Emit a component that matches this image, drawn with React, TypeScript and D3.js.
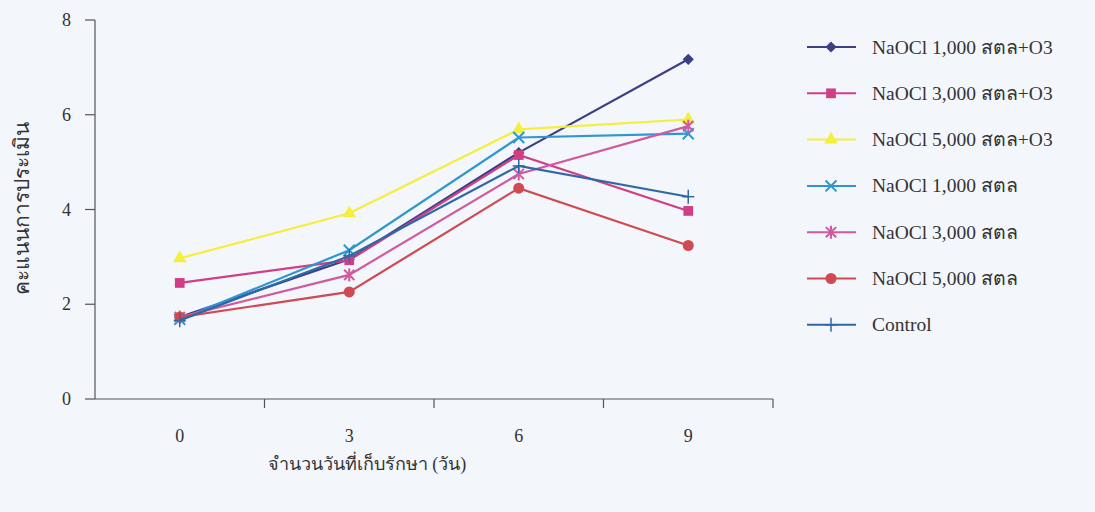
import React from 'react';
import * as d3 from 'd3';

const days = ['0', '3', '6', '9'];

const naocl1000O3 = [1.73, 2.95, 5.2, 7.17];
const naocl3000O3 = [2.45, 2.93, 5.15, 3.97];
const naocl5000O3 = [2.97, 3.92, 5.69, 5.9];
const naocl1000 = [1.68, 3.14, 5.52, 5.6];
const naocl3000 = [1.73, 2.62, 4.75, 5.76];
const naocl5000 = [1.73, 2.26, 4.45, 3.24];
const control = [1.66, 3.02, 4.92, 4.27];

const yTicks = [0, 2, 4, 6, 8];

const seriesNames = [
  'NaOCl 1,000 สตล+O3',
  'NaOCl 3,000 สตล+O3',
  'NaOCl 5,000 สตล+O3',
  'NaOCl 1,000 สตล',
  'NaOCl 3,000 สตล',
  'NaOCl 5,000 สตล',
  'Control',
];
const seriesValues = [naocl1000O3, naocl3000O3, naocl5000O3, naocl1000, naocl3000, naocl5000, control];
const seriesColors = ['#3b3f86', '#d03f86', '#f4ee3c', '#2f96cf', '#cf5a9e', '#cf4a52', '#2f68a8'];
const seriesMarkers = ['diamond', 'square', 'triangle', 'x', 'asterisk', 'circle', 'plus'];

const font = '"Liberation Serif", "DejaVu Serif", serif';

function Marker({ kind, x, y, color }) {
  if (kind === 'diamond') {
    return <path d={d3.symbol(d3.symbolDiamond2, 80)()} transform={`translate(${x},${y})`} fill={color} />;
  }
  if (kind === 'square') {
    return <path d={d3.symbol(d3.symbolSquare, 95)()} transform={`translate(${x},${y})`} fill={color} />;
  }
  if (kind === 'triangle') {
    return <path d={d3.symbol(d3.symbolTriangle, 80)()} transform={`translate(${x},${y})`} fill={color} />;
  }
  if (kind === 'circle') {
    return <circle cx={x} cy={y} r={5.5} fill={color} />;
  }
  if (kind === 'x') {
    return <path d={d3.symbol(d3.symbolX, 80)()} transform={`translate(${x},${y})`} stroke={color} strokeWidth={2} fill="none" />;
  }
  if (kind === 'asterisk') {
    return (
      <g stroke={color} strokeWidth={2}>
        <path d={d3.symbol(d3.symbolX, 70)()} transform={`translate(${x},${y})`} />
        <line x1={x} x2={x} y1={y - 6.5} y2={y + 6.5} />
      </g>
    );
  }
  return (
    <g stroke={color} strokeWidth={1.5}>
      <line x1={x - 6} x2={x + 6} y1={y} y2={y} />
      <line x1={x} x2={x} y1={y - 7} y2={y + 7} />
    </g>
  );
}

export default function App() {
  const width = 1095;
  const height = 512;
  const left = 95;
  const right = 773;
  const top = 20;
  const bottom = 399;

  const xScale = d3.scaleBand().domain(days).range([left, right]).padding(0);
  const yScale = d3.scaleLinear().domain([0, 8]).range([bottom, top]);
  const cx = (d) => xScale(d) + xScale.bandwidth() / 2;

  const line = d3.line()
    .x((d, i) => cx(days[i]))
    .y((d) => yScale(d));

  const tickEdges = days.map((d) => xScale(d) + xScale.bandwidth());

  return (
    <svg width={width} height={height} style={{ display: 'block', position: 'absolute', left: 0, top: 0 }}>
      <rect width={width} height={height} fill="#f3f6fb" />

      {/* axes */}
      <g stroke="#555" strokeWidth={1.2}>
        <line x1={left} x2={left} y1={top} y2={bottom} />
        <line x1={left} x2={right} y1={bottom} y2={bottom} />
        {yTicks.map((t) => (
          <line key={t} x1={left - 10} x2={left} y1={yScale(t)} y2={yScale(t)} />
        ))}
        {tickEdges.map((x, i) => (
          <line key={i} x1={x} x2={x} y1={bottom} y2={bottom + 9} />
        ))}
      </g>

      <g fontFamily={font} fontSize={18} fill="#333">
        {yTicks.map((t) => (
          <text key={t} x={left - 24} y={yScale(t) + 6} textAnchor="end">{t}</text>
        ))}
        {days.map((d) => (
          <text key={d} x={cx(d)} y={442} textAnchor="middle">{d}</text>
        ))}
        <text x={367} y={470} textAnchor="middle">จำนวนวันที่เก็บรักษา (วัน)</text>
        <text transform="translate(29,208) rotate(-90)" textAnchor="middle" fontSize={21}>คะแนนการประเมิน</text>
      </g>

      {/* series */}
      {seriesValues.map((vals, si) => (
        <g key={si}>
          <path d={line(vals)} fill="none" stroke={seriesColors[si]} strokeWidth={2.2} />
          {vals.map((v, i) => (
            <Marker key={i} kind={seriesMarkers[si]} x={cx(days[i])} y={yScale(v)} color={seriesColors[si]} />
          ))}
        </g>
      ))}

      {/* legend */}
      <g fontFamily={font} fontSize={19.5} fill="#333">
        {seriesNames.map((name, i) => {
          const ly = 47 + i * 46.3;
          return (
            <g key={name}>
              <line x1={807} x2={856} y1={ly} y2={ly} stroke={seriesColors[i]} strokeWidth={2} />
              <Marker kind={seriesMarkers[i]} x={831} y={ly} color={seriesColors[i]} />
              <text x={872} y={ly + 6.5}>{name}</text>
            </g>
          );
        })}
      </g>
    </svg>
  );
}
